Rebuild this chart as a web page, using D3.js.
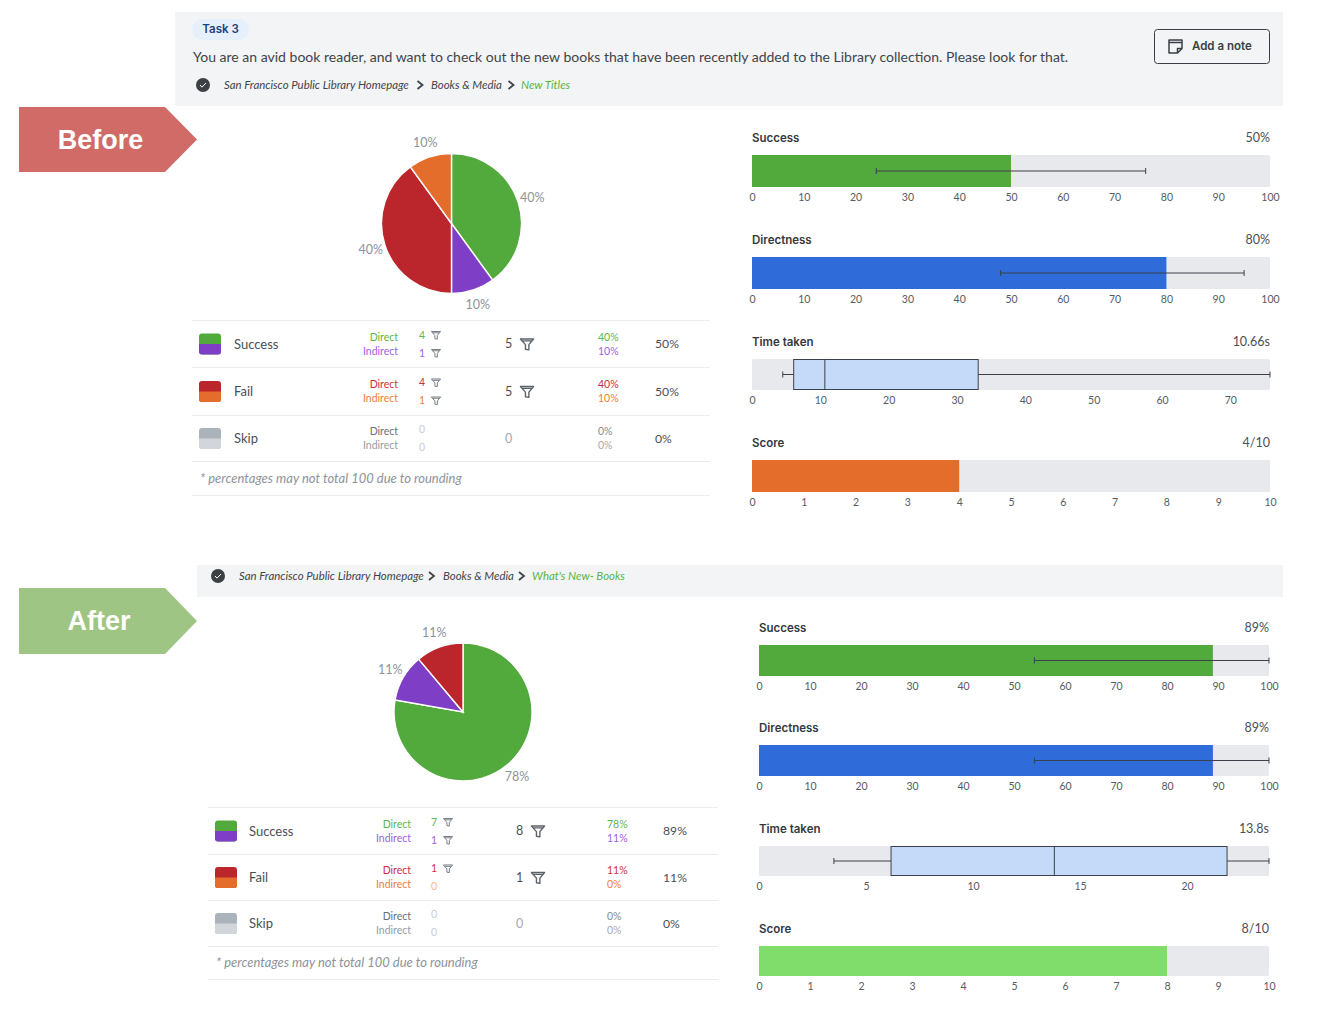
<!DOCTYPE html>
<html>
<head>
<meta charset="utf-8">
<script src="https://cdn.jsdelivr.net/npm/d3@7"></script>
<style>
  html, body { margin: 0; padding: 0; background: #fff; }
  svg { display: block; }
  text { font-family: Lato, "Open Sans", sans-serif; }
</style>
</head>
<body>
<div id="chart"></div>
<script>
// pie + table values
const outcomeNames = ['Success', 'Fail', 'Skip'];
const taskText = 'You are an avid book reader, and want to check out the new books that have been recently added to the Library collection. Please look for that.';
const footnote = '* percentages may not total 100 due to rounding';
const crumbsBefore = ['San Francisco Public Library Homepage', 'Books & Media', 'New Titles'];
const crumbsAfter = ['San Francisco Public Library Homepage', 'Books & Media', "What's New- Books"];

const pieBefore = [4, 1, 4, 1];
const pieLabelsBefore = ['40%', '10%', '40%', '10%'];
const pieAfter = [7, 1, 1, 0];
const pieLabelsAfter = ['78%', '11%', '11%', '0%'];

const directBefore = [4, 4, 0];
const indirectBefore = [1, 1, 0];
const totalBefore = [5, 5, 0];
const directPctBefore = ['40%', '40%', '0%'];
const indirectPctBefore = ['10%', '10%', '0%'];
const totalPctBefore = ['50%', '50%', '0%'];

const directAfter = [7, 1, 0];
const indirectAfter = [1, 0, 0];
const totalAfter = [8, 1, 0];
const directPctAfter = ['78%', '11%', '0%'];
const indirectPctAfter = ['11%', '0%', '0%'];
const totalPctAfter = ['89%', '11%', '0%'];

// [low whisker, high whisker]
const successBefore = 50, successRangeBefore = [24, 76];
const directnessBefore = 80, directnessRangeBefore = [48, 95];
// [low, q1, median, q3, high]
const timeBefore = [4.5, 6.1, 10.66, 33.1, 75.8];
const timeMaxBefore = 75.8, timeTicksBefore = [0, 10, 20, 30, 40, 50, 60, 70], timeLabelBefore = '10.66s';
const scoreBefore = 4;

const successAfter = 89, successRangeAfter = [54, 100];
const directnessAfter = 89, directnessRangeAfter = [54, 100];
const timeAfter = [3.5, 6.17, 13.8, 21.87, 23.83];
const timeMaxAfter = 23.83, timeTicksAfter = [0, 5, 10, 15, 20], timeLabelAfter = '13.8s';
const scoreAfter = 8;

const pctTicks = [0, 10, 20, 30, 40, 50, 60, 70, 80, 90, 100];
const scoreTicks = [0, 1, 2, 3, 4, 5, 6, 7, 8, 9, 10];

const C = {
  green: '#52a93c', purple: '#7e3fc6', red: '#bb262c', orange: '#e56d2c',
  blue: '#2f6bd9', lime: '#80dc6b', track: '#e8e9ed', panel: '#f3f4f6',
  ink: '#3c4149', rule: '#e9ebee'
};
const sliceColors = [C.green, C.purple, C.red, C.orange];
const swatches = [[C.green, C.purple], [C.red, C.orange], ['#aab2bb', '#d2d6da']];
const directColors = ['#5cb84a', '#cc3040', '#6a7078'];
const indirectColors = ['#9b5fe0', '#ee7d3a', '#969ca4'];

const svg = d3.select('#chart').append('svg').attr('width', 1318).attr('height', 1014);

const txt = (g, x, y, s, size, fill, anchor) => g.append('text')
  .attr('x', x).attr('y', y).attr('dy', '0.35em')
  .attr('font-size', size).attr('fill', fill).attr('text-anchor', anchor || 'start').text(s);

function funnel(g, x, y, w, col) {
  // funnel icon, centred on x,y
  const h = w * 0.88;
  g.append('path')
    .attr('transform', `translate(${x - w / 2},${y - h / 2}) scale(${w / 24})`)
    .attr('d', 'M1.5 2.5 H22.5 L15 11.5 V20 L9.5 19 V11.5 Z M4.5 5.5 H19.5')
    .attr('fill', 'none').attr('stroke', col).attr('stroke-width', 2.2).attr('stroke-linejoin', 'round');
}

function arrowTag(y0, y1, color, label, labelX) {
  const pts = [[19, y0], [165, y0], [197, (y0 + y1) / 2], [165, y1], [19, y1]];
  svg.append('polygon').attr('points', pts.join(' ')).attr('fill', color);
  svg.append('text').attr('x', labelX).attr('y', (y0 + y1) / 2).attr('dy', '0.35em')
    .attr('text-anchor', 'middle').attr('fill', '#fff').attr('font-size', 27).attr('font-weight', 700)
    .style('font-family', '"Liberation Sans", Arial, sans-serif').text(label);
}

function breadcrumb(cx, cy, xs, chevrons, crumbs) {
  const g = svg.append('g');
  g.append('circle').attr('cx', cx).attr('cy', cy).attr('r', 7).attr('fill', '#3c3f44');
  g.append('path').attr('d', `M${cx - 3} ${cy} l2 2.2 l4 -4.2`).attr('fill', 'none').attr('stroke', '#fff').attr('stroke-width', 1);
  crumbs.forEach((c, i) => {
    txt(g, xs[i], cy, c, 11.4, i === 2 ? '#58b444' : '#3f444b').attr('font-style', 'italic');
  });
  chevrons.forEach(x => {
    g.append('path').attr('d', `M${x - 2.5} ${cy - 4} l5 4 l-5 4`).attr('fill', 'none').attr('stroke', '#3f444b').attr('stroke-width', 1.8);
  });
}

function drawPie(cx, cy, r, labelR, values, labels) {
  const g = svg.append('g').attr('transform', `translate(${cx},${cy})`);
  const arcs = d3.pie().sort(null)(values);
  const arc = d3.arc().innerRadius(0).outerRadius(r);
  const labelArc = d3.arc().innerRadius(labelR).outerRadius(labelR);
  g.selectAll('path').data(arcs.filter(d => d.value > 0)).join('path')
    .attr('d', arc).attr('fill', d => sliceColors[d.index])
    .attr('stroke', '#fff').attr('stroke-width', 1.4);
  g.selectAll('text').data(arcs.filter(d => d.value > 0)).join('text')
    .attr('transform', d => `translate(${labelArc.centroid(d)})`)
    .attr('dy', '0.35em').attr('text-anchor', 'middle')
    .attr('font-size', 12.5).attr('fill', '#8d939b').text(d => labels[d.index]);
}

function drawTable(t) {
  const g = svg.append('g');
  t.rules.forEach(y => g.append('line').attr('x1', t.x0).attr('x2', t.x1).attr('y1', y).attr('y2', y).attr('stroke', C.rule));
  t.centers.forEach((cy, i) => {
    const sw = g.append('g');
    sw.append('rect').attr('x', t.swatch).attr('y', cy - 10.5).attr('width', 22).attr('height', 21).attr('rx', 3).attr('fill', swatches[i][0]);
    sw.append('path').attr('d', `M${t.swatch} ${cy} h22 v7.5 a3 3 0 0 1 -3 3 h-16 a3 3 0 0 1 -3 -3 z`).attr('fill', swatches[i][1]);
    txt(g, t.label, cy, outcomeNames[i], 13, '#4a4f56');
    txt(g, t.dir, cy - 7, 'Direct', 10.5, directColors[i], 'end');
    txt(g, t.dir, cy + 7, 'Indirect', 10.5, indirectColors[i], 'end');
    // counts
    [[t.direct[i], -9, directColors[i]], [t.indirect[i], 9, indirectColors[i]]].forEach(([v, dy, col]) => {
      const faint = i === 1 ? '#f5b795' : '#c9cdd2';
      txt(g, t.count, cy + dy, v, 10.5, v === 0 ? faint : col);
      if (v > 0) funnel(g, t.count + 17, cy + dy, 10.5, '#737980');
    });
    txt(g, t.total, cy, t.totals[i], 12.5, t.totals[i] === 0 ? '#a5aab0' : '#4a4f56');
    if (t.totals[i] > 0) funnel(g, t.total + 22, cy, 15, '#5d636a');
    txt(g, t.pct, cy - 7, t.directPct[i], 10.5, i === 2 ? '#858b92' : directColors[i]);
    txt(g, t.pct, cy + 7, t.indirectPct[i], 10.5, i === 2 ? '#a5aab0' : indirectColors[i]);
    txt(g, t.totalPct, cy, t.totalPcts[i], 12.2, '#4a4f56');
  });
  txt(g, t.swatch + 1, t.noteY, footnote, 13, '#8d939b').attr('font-style', 'italic');
}

function metricFrame(x0, x1, y0, h, title, valueLabel, domainMax, ticks) {
  const g = svg.append('g');
  const x = d3.scaleLinear().domain([0, domainMax]).range([x0, x1]);
  txt(g, x0, y0 - 17.5, title, 11.5, '#34383e').attr('font-weight', 600).style('font-family', 'Inter, Lato, sans-serif');
  txt(g, x1, y0 - 17.5, valueLabel, 12.5, '#4a4f56', 'end');
  g.append('rect').attr('x', x0).attr('y', y0).attr('width', x1 - x0).attr('height', h).attr('rx', 1.5).attr('fill', C.track);
  const axis = g.append('g').attr('transform', `translate(0,${y0 + h})`)
    .call(d3.axisBottom(x).tickValues(ticks).tickSize(0).tickPadding(7));
  axis.select('.domain').remove();
  axis.selectAll('text').attr('font-size', 10.5).attr('fill', '#565b62')
    .style('font-family', 'Lato, "Open Sans", sans-serif');
  return { g, x };
}

function whisker(g, x, y, lo, hi) {
  g.append('line').attr('x1', x(lo)).attr('x2', x(hi)).attr('y1', y).attr('y2', y).attr('stroke', '#3c4149').attr('stroke-width', 1);
  [lo, hi].forEach(v => g.append('line').attr('x1', x(v)).attr('x2', x(v)).attr('y1', y - 3).attr('y2', y + 3).attr('stroke', '#3c4149').attr('stroke-width', 1));
}

function barMetric(x0, x1, y0, h, title, label, val, max, ticks, color, range) {
  const { g, x } = metricFrame(x0, x1, y0, h, title, label, max, ticks);
  g.append('rect').attr('x', x(0)).attr('y', y0).attr('width', x(val) - x(0)).attr('height', h).attr('fill', color);
  if (range) whisker(g, x, y0 + h / 2, range[0], range[1]);
}

function boxMetric(x0, x1, y0, h, title, label, vals, max, ticks) {
  const { g, x } = metricFrame(x0, x1, y0, h, title, label, max, ticks);
  const [lo, q1, med, q3, hi] = vals;
  whisker(g, x, y0 + h / 2, lo, hi);
  g.append('rect').attr('x', x(q1)).attr('y', y0 + 0.5).attr('width', x(q3) - x(q1)).attr('height', h - 1)
    .attr('fill', '#c5daf8').attr('stroke', '#3c4149').attr('stroke-width', 1);
  g.append('line').attr('x1', x(med)).attr('x2', x(med)).attr('y1', y0).attr('y2', y0 + h).attr('stroke', '#3c4149').attr('stroke-width', 1);
}

// header panels
svg.append('rect').attr('x', 175).attr('y', 12).attr('width', 1108).attr('height', 94).attr('fill', C.panel);
svg.append('rect').attr('x', 197).attr('y', 565).attr('width', 1086).attr('height', 32).attr('fill', C.panel);

arrowTag(107, 172, '#d16b68', 'Before', 100.5);
arrowTag(588, 654, '#9fc584', 'After', 99);

svg.append('rect').attr('x', 192).attr('y', 19).attr('width', 57).attr('height', 21).attr('rx', 10.5).attr('fill', '#e6f0fc');
txt(svg, 220.5, 29, 'Task 3', 11.5, '#1e3f80', 'middle').attr('font-weight', 600).style('font-family', 'Inter, Lato, sans-serif');
txt(svg, 193, 57, taskText, 14.03, '#3f444b');

// note button
svg.append('rect').attr('x', 1154.5).attr('y', 29.5).attr('width', 115).attr('height', 34).attr('rx', 3).attr('fill', 'none').attr('stroke', '#3a3f47');
svg.append('path').attr('d', 'M1169 40 h13 v8.5 l-4.5 4.5 h-8.5 z M1169 42.5 h13 M1177.5 53 v-4.5 h4.5')
  .attr('fill', 'none').attr('stroke', '#3a3f47').attr('stroke-width', 1.5).attr('stroke-linejoin', 'round');
txt(svg, 1192, 46, 'Add a note', 11.5, '#3a3f47').attr('font-weight', 600).style('font-family', 'Inter, Lato, sans-serif');

breadcrumb(203, 85, [224, 431, 521], [420, 511], crumbsBefore);
breadcrumb(218, 576, [239, 443, 532], [431.5, 521.5], crumbsAfter);

drawPie(451.5, 223.5, 70, 85, pieBefore, pieLabelsBefore);
drawPie(463, 712, 69, 84, pieAfter, pieLabelsAfter);

drawTable({
  x0: 192, x1: 710, rules: [320.5, 367.5, 415.5, 461.5, 495.5], centers: [344, 391.5, 438.5], noteY: 478,
  swatch: 199, label: 234, dir: 398, count: 419, total: 505, pct: 598, totalPct: 655,
  direct: directBefore, indirect: indirectBefore, totals: totalBefore,
  directPct: directPctBefore, indirectPct: indirectPctBefore, totalPcts: totalPctBefore
});
drawTable({
  x0: 208, x1: 718, rules: [807.5, 854.5, 900.5, 946.5, 979.5], centers: [831, 877.5, 923.5], noteY: 962,
  swatch: 215, label: 249, dir: 411, count: 431, total: 516, pct: 607, totalPct: 663,
  direct: directAfter, indirect: indirectAfter, totals: totalAfter,
  directPct: directPctAfter, indirectPct: indirectPctAfter, totalPcts: totalPctAfter
});

// before metrics
barMetric(752, 1270, 155, 32, 'Success', successBefore + '%', successBefore, 100, pctTicks, C.green, successRangeBefore);
barMetric(752, 1270, 257, 32, 'Directness', directnessBefore + '%', directnessBefore, 100, pctTicks, C.blue, directnessRangeBefore);
boxMetric(752, 1270, 359, 31, 'Time taken', timeLabelBefore, timeBefore, timeMaxBefore, timeTicksBefore);
barMetric(752, 1270, 460, 32, 'Score', scoreBefore + '/10', scoreBefore, 10, scoreTicks, C.orange);

// after metrics
barMetric(759, 1269, 645, 31, 'Success', successAfter + '%', successAfter, 100, pctTicks, C.green, successRangeAfter);
barMetric(759, 1269, 745, 31, 'Directness', directnessAfter + '%', directnessAfter, 100, pctTicks, C.blue, directnessRangeAfter);
boxMetric(759, 1269, 846, 30, 'Time taken', timeLabelAfter, timeAfter, timeMaxAfter, timeTicksAfter);
barMetric(759, 1269, 946, 30, 'Score', scoreAfter + '/10', scoreAfter, 10, scoreTicks, C.lime);
</script>
</body>
</html>
